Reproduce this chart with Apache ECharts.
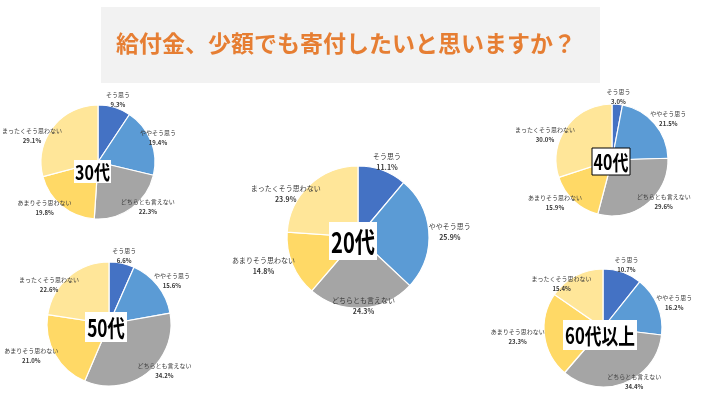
<!DOCTYPE html>
<html>
<head>
<meta charset="utf-8">
<script src="https://cdn.jsdelivr.net/npm/echarts@6/dist/echarts.min.js"></script>
<style>
html,body{margin:0;padding:0;background:#fff;}
#c{width:720px;height:403px;}
</style>
</head>
<body>
<div id="c"></div>
<script>
// ---- data ----
const titleText = '給付金、少額でも寄付したいと思いますか？';
const categories = ['そう思う', 'ややそう思う', 'どちらとも言えない', 'あまりそう思わない', 'まったくそう思わない'];
const ageGroups = ['20代', '30代', '40代', '50代', '60代以上'];
const values20 = [11.1, 25.9, 24.3, 14.8, 23.9];
const values30 = [9.3, 19.4, 22.3, 19.8, 29.1];
const values40 = [3.0, 21.5, 29.6, 15.9, 30.0];
const values50 = [6.6, 15.6, 34.2, 21.0, 22.6];
const values60 = [10.7, 16.2, 34.4, 23.3, 15.4];
const allValues = [values20, values30, values40, values50, values60];

// ---- layout / style ----
const colors = ['#4472C4', '#5B9BD5', '#A5A5A5', '#FFD966', '#FFE699'];
const FONT = '"Noto Sans CJK JP", "Noto Sans", sans-serif';
const layout = [
  { c: [358, 237], r: 71, fs: 7, lh: 11, area: [215, 495], box: [329, 222, 48, 38], bf: 28, sx: 0.72, border: false },
  { c: [98, 162], r: 57, fs: 6, lh: 10, area: [2, 176], box: [74, 160, 37, 23], bf: 20, sx: 0.8, border: false },
  { c: [612, 160], r: 56, fs: 6, lh: 10, area: [515, 717], box: [592, 148, 38, 27], bf: 21, sx: 0.76, border: true },
  { c: [109, 324], r: 62, fs: 6, lh: 10, area: [2, 195], box: [85, 312, 42, 30], bf: 24, sx: 0.72, border: false },
  { c: [603, 328], r: 59, fs: 6, lh: 10, area: [480, 717], box: [563, 320, 74, 30], bf: 22, sx: 0.76, border: false }
];

// label placement in the style of a spreadsheet "best fit"
function makeLabelLayout(i) {
  return function (p) {
    const L = layout[i];
    const vals = allValues[i];
    let total = 0;
    vals.forEach(v => total += v);
    let cum = 0;
    for (let j = 0; j < p.dataIndex; j++) cum += vals[j];
    const frac = (cum + vals[p.dataIndex] / 2) / total;
    const mid = frac * Math.PI * 2;
    const dx = Math.sin(mid), dy = -Math.cos(mid);
    const w = p.labelRect.width, h = p.labelRect.height;
    let x = L.c[0] + dx * L.r + dx * w / 2;
    let y = L.c[1] + dy * L.r;
    if (frac < 0.25) y += dy * h / 2;
    else if (frac < 0.5) y -= 0.1 * h;
    else if (frac < 0.75) y += 0.1 * h;
    else y += 0.5 * h;
    const lo = L.area[0] + w / 2, hi = L.area[1] - w / 2;
    if (x < lo) x = lo;
    if (x > hi) x = hi;
    return { x: x, y: y, align: 'center', verticalAlign: 'middle' };
  };
}

const series = allValues.map((vals, i) => {
  const L = layout[i];
  return {
    type: 'pie',
    center: L.c,
    radius: L.r,
    startAngle: 90,
    clockwise: true,
    avoidLabelOverlap: false,
    silent: true,
    animation: false,
    itemStyle: { borderColor: '#ffffff', borderWidth: 1.2 },
    label: {
      show: true,
      position: 'outside',
      fontFamily: FONT,
      formatter: p => '{n|' + p.name + '}\n{p|' + p.value.toFixed(1) + '%}',
      rich: {
        n: { fontSize: L.fs, color: '#3a3a3a', fontFamily: FONT, lineHeight: L.lh, align: 'center' },
        p: { fontSize: L.fs, color: '#3a3a3a', fontWeight: 'bold', fontFamily: FONT, lineHeight: L.lh, align: 'center' }
      }
    },
    labelLine: { show: false },
    labelLayout: makeLabelLayout(i),
    data: categories.map((name, k) => ({ name: name, value: vals[k], itemStyle: { color: colors[k] } }))
  };
});

const graphics = [
  { type: 'rect', shape: { x: 101, y: 7, width: 499, height: 76 }, style: { fill: '#F2F2F2' }, z: 1 },
  { type: 'text', x: 346, y: 43, style: { text: titleText, fill: '#E67E33', font: 'bold 23px ' + FONT, textAlign: 'center', textVerticalAlign: 'middle' }, z: 2 }
];
ageGroups.forEach((name, i) => {
  const L = layout[i];
  const b = L.box;
  graphics.push({
    type: 'rect', shape: { x: b[0], y: b[1], width: b[2], height: b[3] },
    style: { fill: '#ffffff', stroke: L.border ? '#000000' : null, lineWidth: L.border ? 1 : 0 }, z: 100
  });
  graphics.push({
    type: 'text', x: b[0] + b[2] / 2, y: b[1] + b[3] / 2 + 1, scaleX: L.sx,
    style: { text: name, fill: '#000000', font: 'bold ' + L.bf + 'px ' + FONT, textAlign: 'center', textVerticalAlign: 'middle' }, z: 101
  });
});

const chart = echarts.init(document.getElementById('c'), null, { renderer: 'canvas' });
chart.setOption({
  backgroundColor: '#ffffff',
  animation: false,
  series: series,
  graphic: graphics
});
</script>
</body>
</html>
